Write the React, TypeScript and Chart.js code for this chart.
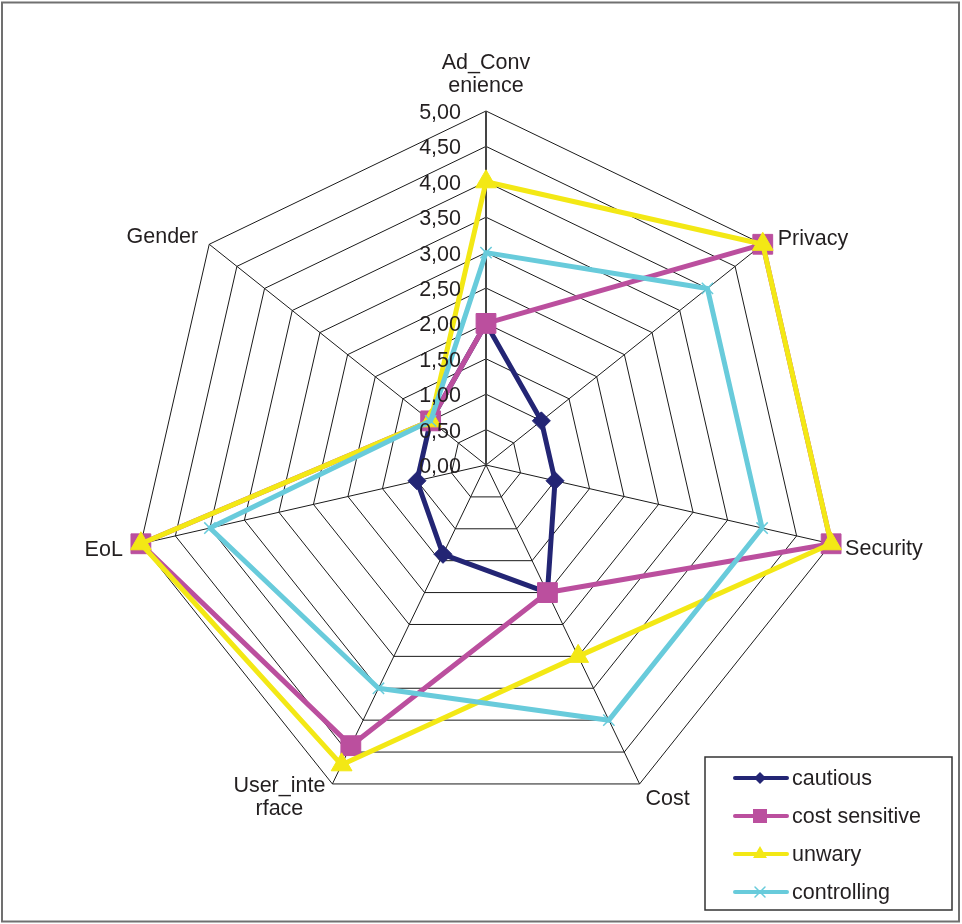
import React, { useEffect, useRef } from "react";
import { Chart, registerables } from "chart.js";

Chart.register(...registerables);

// ---- data ----
const categories: string[][] = [
  ["Ad_Conv", "enience"],
  ["Privacy"],
  ["Security"],
  ["Cost"],
  ["User_inte", "rface"],
  ["EoL"],
  ["Gender"],
];
const tickValues = [0, 0.5, 1, 1.5, 2, 2.5, 3, 3.5, 4, 4.5, 5];
const tickLabels = ["0,00", "0,50", "1,00", "1,50", "2,00", "2,50", "3,00", "3,50", "4,00", "4,50", "5,00"];
const seriesNames = ["cautious", "cost sensitive", "unwary", "controlling"];
const cautious = [2.0, 1.0, 1.0, 2.0, 1.4, 1.0, 1.0];
const costSensitive = [2.0, 5.0, 5.0, 2.0, 4.4, 5.0, 1.0];
const unwary = [4.0, 5.0, 5.0, 3.0, 4.7, 5.0, 1.0];
const controlling = [3.0, 4.0, 4.0, 4.0, 3.5, 4.0, 1.0];

// ---- styles ----
const FONT_FAMILY = '"Liberation Sans", Arial, sans-serif';
const FONT = `21.5px ${FONT_FAMILY}`;
const TEXT = "#231f20";
const COLORS = ["#232574", "#bb4f9e", "#f3e815", "#68cbdb"];
const MARKERS = ["rectRot", "rect", "triangle", "crossRot"];

function drawMarker(ctx: CanvasRenderingContext2D, style: string, x: number, y: number, r: number, color: string) {
  ctx.save();
  ctx.fillStyle = color;
  ctx.strokeStyle = color;
  ctx.beginPath();
  if (style === "rectRot") {
    ctx.moveTo(x, y - r);
    ctx.lineTo(x + r, y);
    ctx.lineTo(x, y + r);
    ctx.lineTo(x - r, y);
    ctx.closePath();
    ctx.fill();
  } else if (style === "rect") {
    ctx.rect(x - r, y - r, 2 * r, 2 * r);
    ctx.fill();
  } else if (style === "triangle") {
    ctx.moveTo(x, y - r);
    ctx.lineTo(x + r * 0.866, y + r * 0.5);
    ctx.lineTo(x - r * 0.866, y + r * 0.5);
    ctx.closePath();
    ctx.fill();
  } else {
    ctx.lineWidth = 1.5;
    ctx.moveTo(x - r, y - r);
    ctx.lineTo(x + r, y + r);
    ctx.moveTo(x + r, y - r);
    ctx.lineTo(x - r, y + r);
    ctx.stroke();
  }
  ctx.restore();
}

function drawBlock(
  ctx: CanvasRenderingContext2D,
  lines: string[],
  anchorX: number,
  align: "left" | "right" | "center",
  firstBaseline: number,
  lineHeight: number
) {
  const maxW = Math.max(...lines.map((l) => ctx.measureText(l).width));
  let cx = anchorX;
  if (align === "left") cx = anchorX + maxW / 2;
  if (align === "right") cx = anchorX - maxW / 2;
  ctx.textAlign = "center";
  ctx.textBaseline = "alphabetic";
  lines.forEach((l, k) => ctx.fillText(l, cx, firstBaseline + k * lineHeight));
}

const overlayPlugin = {
  id: "overlay",
  afterDraw(chart: any) {
    const ctx: CanvasRenderingContext2D = chart.ctx;
    const scale = chart.scales.r;
    ctx.save();

    // outer frame
    ctx.strokeStyle = "#707070";
    ctx.lineWidth = 2;
    ctx.strokeRect(2, 2.5, 957, 919);

    // tick labels, left of the value axis
    ctx.font = FONT;
    ctx.fillStyle = TEXT;
    ctx.textAlign = "right";
    ctx.textBaseline = "middle";
    tickValues.forEach((v, i) => {
      const d = scale.getDistanceFromCenterForValue(v);
      ctx.fillText(tickLabels[i], scale.xCenter - 25, scale.yCenter - d + 2);
    });

    // point labels
    const n = categories.length;
    const LH = 23;
    categories.forEach((lines, i) => {
      const p = scale.getPointPositionForValue(i, scale.max);
      const ang = (i * 360) / n;
      if (ang === 0) {
        drawBlock(ctx, lines, p.x, "center", p.y - 19 - (lines.length - 1) * LH, LH);
      } else if (ang < 90) {
        drawBlock(ctx, lines, p.x + 15, "left", p.y + 1, LH);
      } else if (ang < 135) {
        drawBlock(ctx, lines, p.x + 14, "left", p.y + 11, LH);
      } else if (ang < 180) {
        drawBlock(ctx, lines, p.x + 6, "left", p.y + 21, LH);
      } else if (ang < 225) {
        drawBlock(ctx, lines, p.x - 7, "right", p.y + 8, LH);
      } else if (ang < 270) {
        drawBlock(ctx, lines, p.x - 18, "right", p.y + 12, LH);
      } else {
        drawBlock(ctx, lines, p.x - 11, "right", p.y - 1, LH);
      }
    });

    // legend
    const bx = 705, by = 757, bw = 247, bh = 153;
    ctx.fillStyle = "#ffffff";
    ctx.fillRect(bx, by, bw, bh);
    ctx.strokeStyle = "#333333";
    ctx.lineWidth = 1.5;
    ctx.strokeRect(bx, by, bw, bh);
    const legendSizes = [6, 7, 8, 5];
    seriesNames.forEach((name, k) => {
      const y = by + 21 + k * 38;
      ctx.strokeStyle = COLORS[k];
      ctx.lineWidth = 4;
      ctx.lineCap = "round";
      ctx.beginPath();
      ctx.moveTo(735, y);
      ctx.lineTo(787, y);
      ctx.stroke();
      drawMarker(ctx, MARKERS[k], 760, y, legendSizes[k], COLORS[k]);
      ctx.fillStyle = TEXT;
      ctx.font = FONT;
      ctx.textAlign = "left";
      ctx.textBaseline = "middle";
      ctx.fillText(name, 792, y + 1);
    });

    ctx.restore();
  },
};

export default function App() {
  const ref = useRef<HTMLCanvasElement | null>(null);

  useEffect(() => {
    if (!ref.current) return;
    const series = [cautious, costSensitive, unwary, controlling];
    const radii = [9, 14, 12, 8];
    const chart = new Chart(ref.current, {
      type: "radar",
      data: {
        labels: categories,
        datasets: series.map((values, k) => ({
          label: seriesNames[k],
          data: values,
          borderColor: COLORS[k],
          backgroundColor: COLORS[k],
          pointBackgroundColor: COLORS[k],
          pointBorderColor: COLORS[k],
          pointStyle: MARKERS[k] as any,
          pointRadius: radii[k],
          pointHoverRadius: radii[k],
          pointBorderWidth: k === 3 ? 1.5 : 1,
          borderWidth: 5,
          borderJoinStyle: "round" as const,
          fill: false,
          tension: 0,
          order: 4 - k,
        })),
      },
      options: {
        responsive: false,
        animation: false,
        devicePixelRatio: 1,
        layout: { padding: { left: 132, right: 122, top: 111, bottom: 105 } },
        plugins: { legend: { display: false }, tooltip: { enabled: false } },
        scales: {
          r: {
            min: 0,
            max: 5,
            beginAtZero: true,
            ticks: { display: false, stepSize: 0.5 },
            pointLabels: { display: false },
            grid: { color: "#1a1a1a", lineWidth: 1 },
            angleLines: {
              color: (c: any) => (c.index === 0 ? "#444444" : "#1a1a1a"),
              lineWidth: (c: any) => (c.index === 0 ? 2 : 1),
            },
          },
        },
      },
      plugins: [overlayPlugin],
    });
    return () => chart.destroy();
  }, []);

  return (
    <div style={{ position: "absolute", left: 0, top: 0, width: 962, height: 924, background: "#ffffff" }}>
      <canvas ref={ref} width={962} height={924} style={{ display: "block", width: 962, height: 924 }} />
    </div>
  );
}
